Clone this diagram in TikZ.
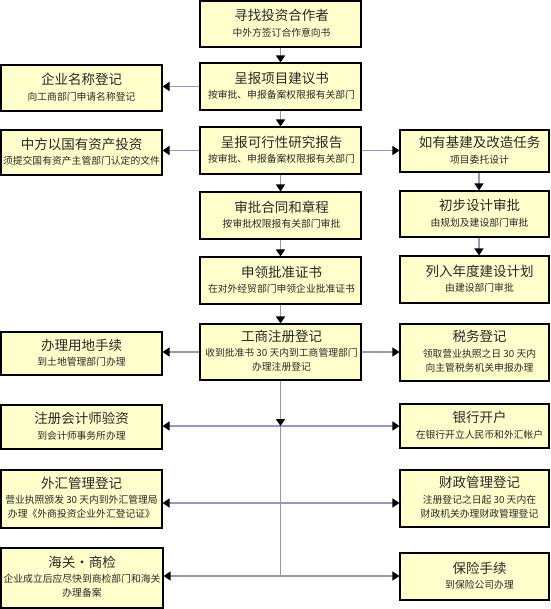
\documentclass[tikz,border=0pt]{standalone}
\usepackage{fontspec}
\setmainfont{Noto Sans CJK SC}
\usetikzlibrary{arrows.meta}
\definecolor{boxfill}{RGB}{255,255,204}
\definecolor{linec}{RGB}{150,150,190}
\definecolor{txtc}{RGB}{40,40,40}
\tikzset{
  boxst/.style={draw=black, line width=1.2pt, fill=boxfill, inner sep=0pt, rectangle},
  ttl/.style={text=txtc, font=\fontsize{13.5}{16}\selectfont, inner sep=0pt},
  subst/.style={text=txtc, font=\fontsize{9.8}{12}\selectfont, inner sep=0pt},
  conn/.style={draw=linec, line width=1.5pt},
  arr/.style={conn, -{Triangle[length=7pt,width=9pt,color=black]}},
}
% name, cx, cy, w, h, dx, title, sub
\newcommand\mkboxtwo[8]{%
  \node[boxst, minimum width=#4pt, minimum height=#5pt] (#1) at (#2,#3) {};
  \node[ttl] (#1t) at ({#2+#6},{#3-8.5}) {#7};
  \node[subst] (#1s) at ({#2+#6},{#3+8.5}) {#8};
}
% name, cx, cy, w, h, dx, title, sub1, sub2
\newcommand\mkboxthree[9]{%
  \node[boxst, minimum width=#4pt, minimum height=#5pt] (#1) at (#2,#3) {};
  \node[ttl] (#1t) at ({#2+#6},{#3-16}) {#7};
  \node[subst] (#1s) at ({#2+#6},{#3+1}) {#8};
  \node[subst] (#1u) at ({#2+#6},{#3+15}) {#9};
}
\begin{document}
\begin{tikzpicture}[x=1pt,y=-1pt]
\useasboundingbox (0,0) rectangle (550,609);
% centre column
\mkboxtwo{b1}{280.5}{24}{161}{46}{1}{寻找投资合作者}{中外方签订合作意向书}
\mkboxtwo{b2}{280.5}{86.5}{161}{47}{1}{呈报项目建议书}{按审批、申报备案权限报有关部门}
\mkboxtwo{b3}{280.5}{150.5}{161}{47}{1}{呈报可行性研究报告}{按审批、申报备案权限报有关部门}
\mkboxtwo{b4}{280.5}{215.5}{161}{47}{1}{审批合同和章程}{按审批权限报有关部门审批}
\mkboxtwo{b5}{280.5}{280.5}{161}{47}{1}{申领批准证书}{在对外经贸部门申领企业批准证书}
\mkboxthree{b6}{280.5}{352}{161}{56}{1}{工商注册登记}{收到批准书 30 天内到工商管理部门}{办理注册登记}
% left column
\mkboxtwo{l1}{81.5}{88}{161}{46}{0}{企业名称登记}{向工商部门申请名称登记}
\mkboxtwo{l2}{81.5}{152.5}{161}{45}{0}{中方以国有资产投资}{须提交国有资产主管部门认定的文件}
\mkboxtwo{l3}{81.5}{353.5}{161}{43}{0}{办理用地手续}{到土地管理部门办理}
\mkboxtwo{l4}{81.5}{427}{161}{44}{0}{注册会计师验资}{到会计师事务所办理}
\mkboxthree{l5}{81.5}{499}{161}{58}{0}{外汇管理登记}{营业执照颁发 30 天内到外汇管理局}{办理《外商投资企业外汇登记证》}
\mkboxthree{l6}{82}{578}{162}{60}{0}{海关·商检}{企业成立后应尽快到商检部门和海关}{办理备案}
% right column
\mkboxtwo{r1}{474.5}{151}{149}{42}{5}{如有基建及改造任务}{项目委托设计}
\mkboxtwo{r2}{474.5}{214}{149}{46}{5}{初步设计审批}{由规划及建设部门审批}
\mkboxtwo{r3}{474.5}{279.5}{149}{47}{5}{列入年度建设计划}{由建设部门审批}
\mkboxthree{r4}{474.5}{352.5}{149}{57}{5}{税务登记}{领取营业执照之日 30 天内}{向主管税务机关申报办理}
\mkboxtwo{r5}{474.5}{426}{149}{44}{5}{银行开户}{在银行开立人民币和外汇帐户}
\mkboxthree{r6}{474.5}{498.5}{149}{57}{5}{财政管理登记}{注册登记之日起 30 天内在}{财政机关办理财政管理登记}
\mkboxtwo{r7}{474.5}{576.5}{149}{47}{5}{保险手续}{到保险公司办理}
% vertical arrows, centre
\draw[arr] (b1.south) -- (b2.north);
\draw[arr] (b2.south) -- (b3.north);
\draw[arr] (b3.south) -- (b4.north);
\draw[arr] (b4.south) -- (b5.north);
\draw[arr] (b5.south) -- (b6.north);
% vertical arrows, right
\draw[arr] ([xshift=4.5pt]r1.south) -- ([xshift=4.5pt]r2.north);
\draw[arr] ([xshift=4.5pt]r2.south) -- ([xshift=4.5pt]r3.north);
% side arrows
\draw[arr] (b2.west) -- (b2.west -| l1.east);
\draw[arr] (b3.west) -- (b3.west -| l2.east);
\draw[arr] (b3.east) -- (b3.east -| r1.west);
\draw[arr] (b6.west) -- (b6.west -| l3.east);
\draw[arr] (b6.east) -- (b6.east -| r4.west);
% trunk
\coordinate (j1) at (280.5,426);
\coordinate (j2) at (280.5,503);
\coordinate (j3) at (280.5,576);
\draw[conn] (j1) -- (j3);
\draw[arr] (j1) -- (j1 -| l4.east);
\draw[arr] (j1) -- (j1 -| r5.west);
\draw[arr] (j2) -- (j2 -| l5.east);
\draw[arr] (j2) -- (j2 -| r6.west);
\draw[arr] (j3) -- (j3 -| l6.east);
\draw[arr] (j3) -- (j3 -| r7.west);
\draw[arr] (b6.south) -- (j1);
\end{tikzpicture}
\end{document}
